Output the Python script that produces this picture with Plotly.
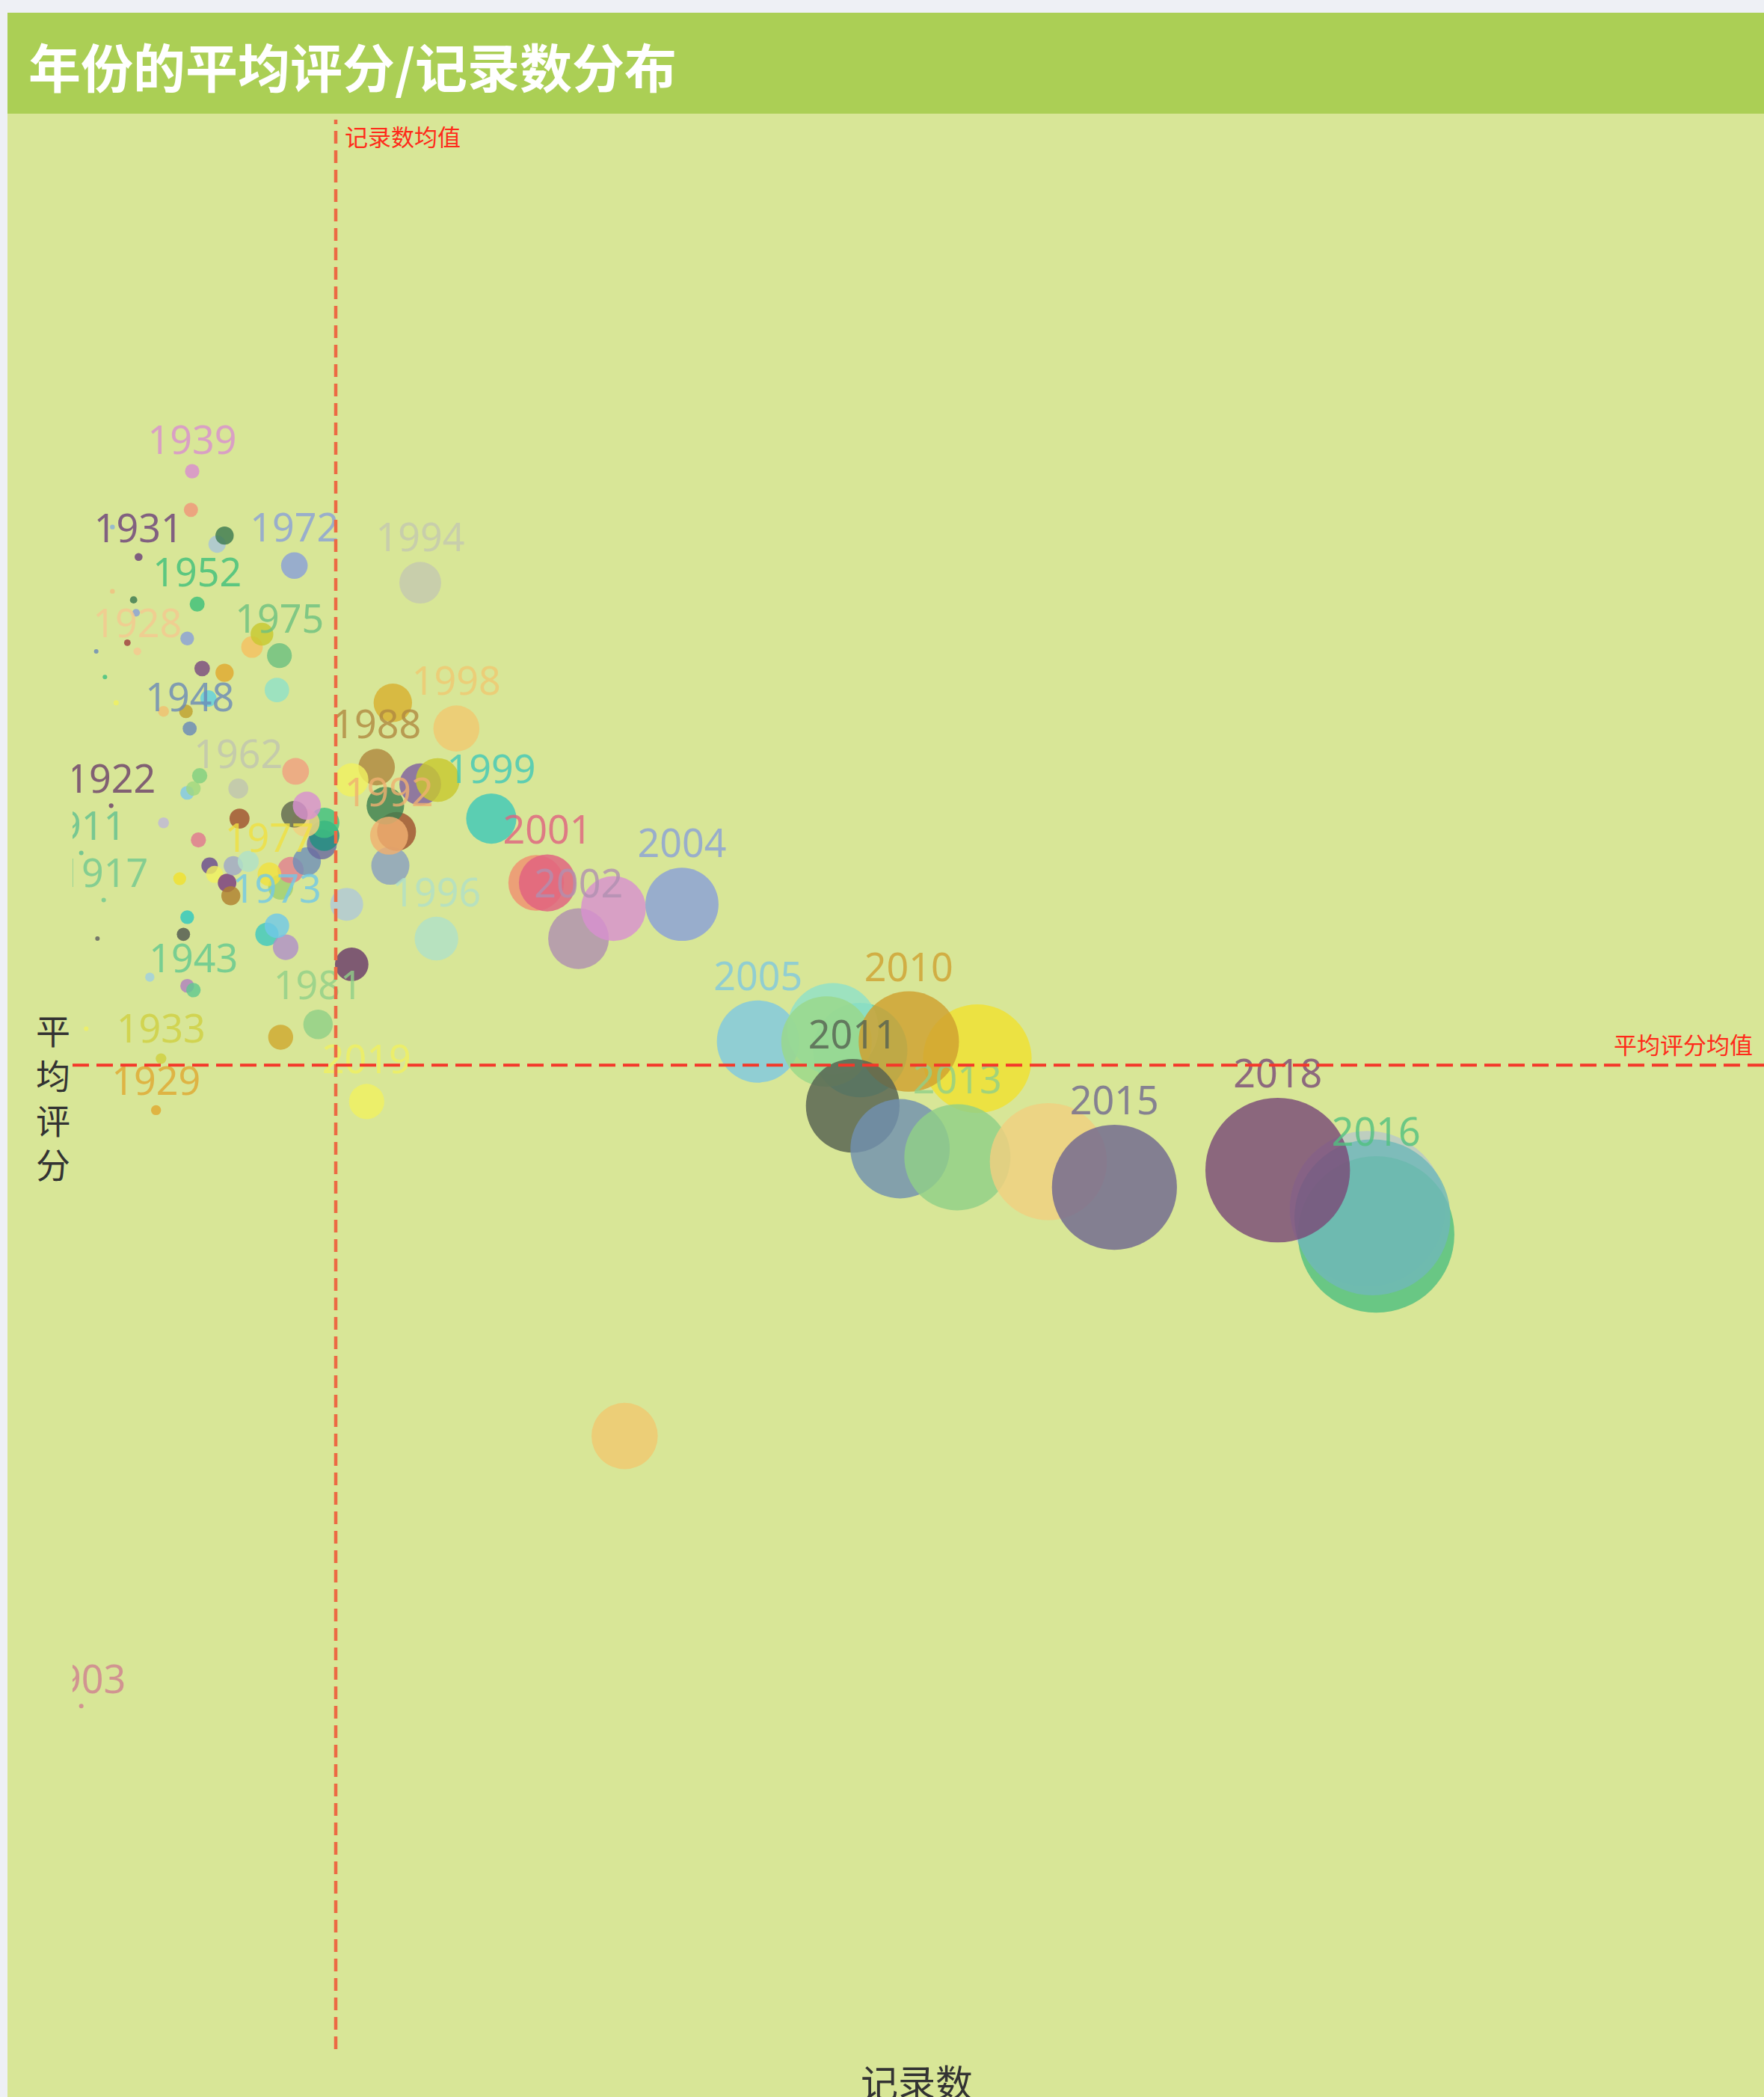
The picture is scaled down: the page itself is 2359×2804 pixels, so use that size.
import plotly.graph_objects as go

# ---------------- data ----------------
years = [1903, 1911, 1916, 1917, 1918, 1919, 1920, 1921, 1922, 1923,
         1924, 1925, 1926, 1927, 1928, 1929, 1930, 1931, 1932, 1933,
         1934, 1935, 1936, 1937, 1938, 1939, 1940, 1941, 1942, 1943,
         1944, 1945, 1946, 1947, 1948, 1949, 1950, 1951, 1952, 1953,
         1954, 1955, 1956, 1957, 1958, 1959, 1960, 1961, 1962, 1963,
         1964, 1965, 1966, 1967, 1968, 1969, 1970, 1971, 1972, 1973,
         1974, 1975, 1976, 1977, 1978, 1979, 1980, 1981, 1982, 1983,
         1984, 1985, 1986, 1987, 1988, 1989, 1990, 1991, 1992, 1993,
         1994, 1995, 1996, 1997, 1998, 1999, 2000, 2001, 2002, 2003,
         2004, 2005, 2006, 2007, 2008, 2009, 2010, 2011, 2012, 2013,
         2014, 2015, 2017, 2016, 2020, 2018, 2019]

record_counts = [7, 7, 11, 25, 19, 20, 26, 32, 31, 32,
                 35, 44, 51, 49, 52, 67, 62, 53, 73, 71,
                 73, 86, 89, 91, 92, 96, 92, 92, 92, 97,
                 95, 97, 101, 102, 94, 104, 109, 110, 100, 114,
                 116, 122, 122, 124, 127, 129, 134, 141, 133, 144,
                 156, 171, 152, 167, 164, 167, 175, 188, 178, 164,
                 200, 166, 202, 158, 202, 187, 178, 197, 188, 179,
                 224, 220, 255, 260, 244, 251, 257, 224, 254, 279,
                 279, 293, 292, 443, 308, 336, 372, 381, 406, 434,
                 489, 550, 632, 610, 605, 726, 671, 626, 664, 710,
                 783, 836, 1039, 1046, 1043, 967, 236]

avg_ratings = [5.80, 7.79, 7.38, 7.68, 8.26, 7.59, 8.20, 8.40, 7.90, 8.55,
               8.14, 8.28, 8.35, 8.38, 8.26, 7.19, 7.50, 8.48, 7.86, 7.31,
               8.12, 7.73, 7.60, 8.12, 7.64, 8.68, 7.48, 7.93, 8.29, 7.47,
               8.59, 7.94, 7.82, 7.97, 8.08, 8.22, 8.15, 7.76, 8.37, 7.74,
               8.51, 8.21, 8.53, 7.72, 7.69, 7.76, 7.87, 7.77, 7.94, 8.27,
               7.60, 7.57, 8.30, 7.36, 8.17, 7.71, 7.75, 7.77, 8.46, 7.62,
               7.81, 8.25, 7.83, 7.74, 7.86, 7.86, 7.88, 7.39, 7.90, 7.98,
               7.53, 7.67, 7.76, 7.84, 7.99, 7.90, 8.14, 7.96, 7.83, 7.95,
               8.42, 7.96, 7.59, 6.43, 8.08, 7.87, 7.72, 7.72, 7.59, 7.66,
               7.67, 7.35, 7.33, 7.38, 7.35, 7.31, 7.35, 7.20, 7.10, 7.08,
               7.07, 7.01, 6.96, 6.90, 6.94, 7.05, 7.21]

labeled_years = [1903, 1911, 1917, 1922, 1928, 1929, 1931, 1933, 1939, 1943,
                 1948, 1952, 1962, 1972, 1973, 1975, 1977, 1981, 1988, 1992,
                 1994, 1996, 1998, 1999, 2001, 2002, 2004, 2005, 2010, 2011,
                 2013, 2015, 2016, 2018, 2019]

mean_count = 211.2
mean_rating = 7.295

# ---------------- styles ----------------
colors = ["#d08090", "#60c090", "#f0f060", "#70c890", "#6a8ab8", "#606060", "#40c080", "#f0c080", "#6b3f6a", "#8ab0d8",
          "#f0f060", "#a04040", "#8aa0d8", "#3d7a50", "#f5c890", "#e0a830", "#a0d0e0", "#6b3f7a", "#c0b8d8", "#d0d040",
          "#f0c070", "#f0e030", "#505850", "#c0a030", "#30c8c0", "#d98ed0", "#b080c0", "#80c8e8", "#8aa0d8", "#60c890",
          "#f0967a", "#a0d880", "#e07890", "#80d080", "#6a8ab8", "#7a4a80", "#60d0e0", "#6a4a90", "#3dbf7a", "#f0f060",
          "#a8c4d8", "#e0a830", "#3d7a50", "#7a3a80", "#b08030", "#a0a8c8", "#a05030", "#b0e0c8", "#c0c4b0", "#f5c060",
          "#40c8c0", "#b090c8", "#c8c830", "#d0a830", "#90e0c8", "#a0d070", "#e08090", "#7090b8", "#8aa0d8", "#70c8e8",
          "#6a6aa0", "#6cc080", "#209080", "#f0e040", "#40c080", "#f0d080", "#606850", "#90d088", "#d890d0", "#f0a080",
          "#6a3a6a", "#b0c8d8", "#8aa0c0", "#a05030", "#b08840", "#3d8050", "#d8b030", "#f0f060", "#f0b070", "#8060a0",
          "#c4c8b0", "#c8c830", "#b0e0c8", "#f0c870", "#f0c870", "#40c8b8", "#f09070", "#e06080", "#b090b0", "#d890d0",
          "#8aa0d8", "#80c8e0", "#60d0b0", "#90e0c8", "#9ad88a", "#f0e030", "#d0a030", "#556050", "#7090b0", "#90d088",
          "#f0d080", "#706890", "#b8c8c8", "#50c080", "#70b8b8", "#7a4a78", "#f0f060"]

BG = "#d8e697"
W, H = 2359, 2804
L, R, T, B = 97, 0, 160, 64
SIZEREF = 5


def rgba(h, a):
    h = h.lstrip("#")
    return "rgba(%d,%d,%d,%.2f)" % (int(h[0:2], 16), int(h[2:4], 16), int(h[4:6], 16), a)


def pxx(x):
    return (x - L) / (W - L - R)


def pxy(y):
    return (H - B - y) / (H - T - B)


labels = [str(y) if y in labeled_years else "" for y in years]

fig = go.Figure()
# bubbles
fig.add_trace(go.Scatter(
    x=record_counts, y=avg_ratings, mode="markers",
    marker=dict(size=record_counts, sizemode="diameter", sizeref=SIZEREF, sizemin=3,
                color=colors, opacity=0.82, line=dict(width=0)),
    customdata=years,
    hovertemplate="%{customdata}<br>记录数 %{x}<br>平均评分 %{y}<extra></extra>",
    cliponaxis=True,
))
# labels (invisible markers scaled so the label sits just above each bubble)
fig.add_trace(go.Scatter(
    x=record_counts, y=avg_ratings, mode="markers+text",
    text=labels, textposition="top center",
    textfont=dict(family="Noto Sans", size=52, color=[rgba(c, 0.8) for c in colors]),
    marker=dict(size=record_counts, sizemode="diameter", sizeref=SIZEREF / 0.8, sizemin=2.4,
                color=colors, opacity=0),
    hoverinfo="skip",
    cliponaxis=True,
))

x_max = (W - L - R) * 0.6

shapes = [
    dict(type="rect", xref="paper", yref="paper", x0=pxx(0), x1=pxx(10), y0=pxy(H), y1=pxy(0),
         fillcolor="#eef0f5", line=dict(width=0), layer="above"),
    dict(type="rect", xref="paper", yref="paper", x0=pxx(0), x1=pxx(W), y0=pxy(17), y1=pxy(0),
         fillcolor="#eef0f5", line=dict(width=0), layer="above"),
    dict(type="rect", xref="paper", yref="paper", x0=pxx(10), x1=pxx(W), y0=pxy(152), y1=pxy(17),
         fillcolor="#abcf55", line=dict(width=0), layer="above"),
    dict(type="line", xref="x", yref="paper", x0=mean_count, x1=mean_count, y0=0, y1=1,
         line=dict(color="#ec6a44", width=4.5, dash="17px,9px"), layer="above"),
    dict(type="line", xref="paper", yref="y", x0=0, x1=1, y0=mean_rating, y1=mean_rating,
         line=dict(color="#f4382a", width=4, dash="22px,10px"), layer="above"),
]

annotations = [
    dict(text="<b>年份的平均评分/记录数分布</b>", xref="paper", yref="paper", x=pxx(36), y=pxy(87),
         xanchor="left", yanchor="middle", showarrow=False,
         font=dict(family="Noto Sans CJK SC", size=70, color="white")),
    dict(text="记录数均值", xref="x", yref="paper", x=mean_count, xshift=10, y=pxy(182),
         xanchor="left", yanchor="middle", showarrow=False,
         font=dict(family="Noto Sans CJK SC", size=31, color="#ff2a1a")),
    dict(text="平均评分均值", xref="paper", yref="y", x=pxx(2346), y=mean_rating, yshift=29,
         xanchor="right", yanchor="middle", showarrow=False,
         font=dict(family="Noto Sans CJK SC", size=31, color="#ff2a1a")),
    dict(text="记录数", xref="paper", yref="paper", x=pxx(1226), y=pxy(2744),
         xanchor="center", yanchor="top", showarrow=False,
         font=dict(family="Noto Sans CJK SC", size=50, color="#333333")),
    dict(text="平<br>均<br>评<br>分", xref="paper", yref="paper", x=pxx(71), y=pxy(1465),
         xanchor="center", yanchor="middle", showarrow=False, borderpad=0,
         font=dict(family="Noto Sans CJK SC", size=46, color="#333333")),
]

fig.update_layout(
    width=W, height=H,
    margin=dict(l=L, r=R, t=T, b=B, pad=0),
    paper_bgcolor=BG, plot_bgcolor=BG,
    showlegend=False,
    xaxis=dict(range=[0, x_max], visible=False, showgrid=False, zeroline=False),
    yaxis=dict(range=[5.0, 9.5], visible=False, showgrid=False, zeroline=False),
    shapes=shapes, annotations=annotations,
)

fig.write_html("out.html", config={"displayModeBar": False},
               post_script="document.body.style.margin='0';document.body.style.overflow='hidden';")
